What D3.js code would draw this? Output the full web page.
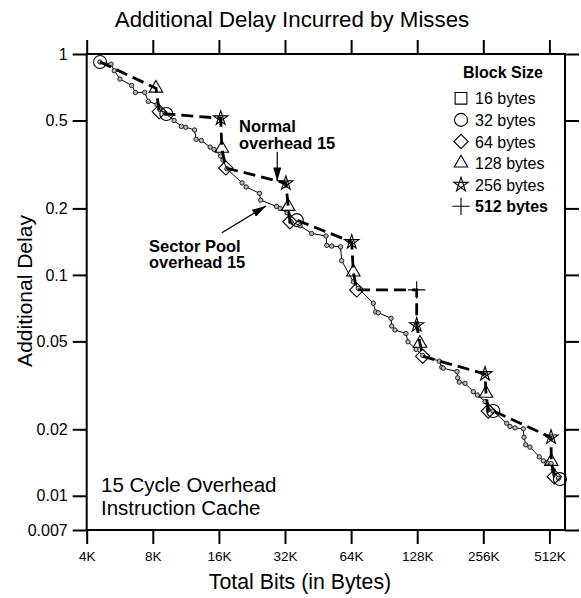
<!DOCTYPE html>
<html>
<head>
<meta charset="utf-8">
<script src="https://cdn.jsdelivr.net/npm/d3@7"></script>
<style>
body { margin: 0; background: #fff; }
text { font-family: "Liberation Sans", Arial, Helvetica, sans-serif; fill: #000; }
</style>
</head>
<body>
<svg id="chart" width="581" height="598"></svg>
<script>
// tick labels
var xTicks = [4, 8, 16, 32, 64, 128, 256, 512];          // K bytes
var yTicks = [1, 0.5, 0.2, 0.1, 0.05, 0.02, 0.01, 0.007];

// sector pool, overhead 15 (thin line, small dots)
var sectorX = [4.6, 5.16, 5.34, 5.67, 6.41, 6.67, 7.35, 7.63, 8.36, 8.63, 9.09, 10.0, 10.8, 11.3, 12.4, 12.6,
	13.3, 14.6, 15.2, 16.3, 16.7, 17.4, 20.4, 21.3, 24.5, 24.8, 29.3, 30.4, 32.7, 34.1, 37.5, 42.3, 49.2,
	49.6, 52.2, 57.3, 58.0, 65.5, 69.0, 80.8, 82.8, 85.1, 97.3, 98.0, 101.4, 113.8, 116.2, 126.5, 135.6,
	161.4, 165.5, 168.3, 194.3, 195.7, 199.0, 211.3, 230.6, 240.4, 260.7, 269.8, 283.4, 327.2, 338.7,
	357, 389.4, 392.3, 399.4, 417.8, 460.5, 480.3, 499.3, 520.9, 533.3, 563.3];
var sectorY = [0.92, 0.90, 0.84, 0.77, 0.72, 0.67, 0.67, 0.61, 0.59, 0.56, 0.54, 0.50, 0.47, 0.466, 0.453, 0.411,
	0.406, 0.379, 0.370, 0.345, 0.331, 0.302, 0.261, 0.250, 0.234, 0.218, 0.204, 0.200, 0.191, 0.174, 0.167, 0.154, 0.150,
	0.136, 0.135, 0.134, 0.116, 0.093, 0.087, 0.0744, 0.068, 0.0674, 0.0636, 0.0587, 0.0563, 0.0543, 0.0498, 0.046, 0.0432,
	0.0407, 0.0382, 0.0378, 0.0365, 0.0342, 0.0327, 0.0323, 0.0296, 0.0286, 0.0267, 0.0245, 0.0242, 0.0213, 0.0206,
	0.0203, 0.0201, 0.0184, 0.0170, 0.0166, 0.0150, 0.0144, 0.0141, 0.0140, 0.0131, 0.0120];

// normal, overhead 15 (dashed line, block size markers)
var normalX = [4.6, 8.27, 8.56, 9.22, 16.3, 16.5, 17.2, 32.3, 33.1, 33.7, 36.2, 64.4, 65.5, 67.9,
	127.3, 127.3, 131.8, 135.6, 260.7, 263.4, 269.8, 284.3, 520.9, 522.3, 538.9, 572];
var normalY = [0.92, 0.70, 0.548, 0.535, 0.512, 0.374, 0.305, 0.260, 0.204, 0.174, 0.177, 0.141, 0.103, 0.0855,
	0.0855, 0.0593, 0.049, 0.0428, 0.0356, 0.0291, 0.0242, 0.0242, 0.0184, 0.0143, 0.0122, 0.0119];
var normalBlock = [32, 128, 64, 32, 256, 128, 64, 256, 128, 64, 32, 256, 128, 64,
	512, 256, 128, 64, 256, 128, 64, 32, 256, 128, 64, 32];

var legendBlocks = [16, 32, 64, 128, 256, 512];
var legendLabels = ["16 bytes", "32 bytes", "64 bytes", "128 bytes", "256 bytes", "512 bytes"];

//
//
//

var svg = d3.select("#chart");

var x = d3.scaleLog().base(2).domain([4, 603]).range([86.7, 565]);
var y = d3.scaleLog().domain([0.007, 1]).range([530, 54]);

// star drawn as line pentagram
var symbolPentagram = {
	draw: function(ctx, size) {
		var r = Math.sqrt(size) * 0.7;
		for (var i = 0; i < 5; i++) {
			var a = -Math.PI / 2 + i * 4 * Math.PI / 5;
			if (i == 0) ctx.moveTo(r * Math.cos(a), r * Math.sin(a));
			else ctx.lineTo(r * Math.cos(a), r * Math.sin(a));
		}
		ctx.closePath();
	}
};

function marker_path(b)
{
	switch (b) {
	case 16:  return d3.symbol(d3.symbolSquare2, 175)();
	case 32:  return d3.symbol(d3.symbolCircle, 132)();
	case 64:  return d3.symbol(d3.symbolDiamond2, 130)();
	case 128: return d3.symbol(d3.symbolTriangle2, 130)();
	case 256: return d3.symbol(symbolPentagram, 115)();
	case 512: return d3.symbol(d3.symbolPlus, 100)();
	}
}

// axes (ticks on all four sides, outward)
function style_axis(g)
{
	g.select(".domain").remove();
	g.selectAll(".tick line").attr("stroke", "#000").attr("stroke-width", 2);
}

svg.append("g")
	.attr("transform", "translate(0,530)")
	.call(d3.axisBottom(x).tickValues(xTicks).tickSize(14).tickSizeOuter(0).tickFormat(d => d + "K"))
	.call(style_axis)
	.selectAll("text")
		.attr("y", 21)
		.attr("font-size", 13.5)
		.attr("font-family", "Liberation Sans, Arial, sans-serif");

svg.append("g")
	.attr("transform", "translate(0,54)")
	.call(d3.axisTop(x).tickValues(xTicks).tickSize(14).tickSizeOuter(0).tickFormat(""))
	.call(style_axis);

svg.append("g")
	.attr("transform", "translate(86.7,0)")
	.call(d3.axisLeft(y).tickValues(yTicks).tickSize(14).tickSizeOuter(0).tickFormat(d => String(d)))
	.call(style_axis)
	.selectAll("text")
		.attr("x", -19)
		.attr("font-size", 16)
		.attr("font-family", "Liberation Sans, Arial, sans-serif");

svg.append("g")
	.attr("transform", "translate(565,0)")
	.call(d3.axisRight(y).tickValues(yTicks).tickSize(14).tickSizeOuter(0).tickFormat(""))
	.call(style_axis);

svg.append("rect")
	.attr("x", 86.7).attr("y", 54)
	.attr("width", 565 - 86.7).attr("height", 530 - 54)
	.attr("fill", "none")
	.attr("stroke", "#000")
	.attr("stroke-width", 2);

// titles
svg.append("text")
	.attr("x", 292).attr("y", 27)
	.attr("text-anchor", "middle")
	.attr("font-size", 22.3)
	.text("Additional Delay Incurred by Misses");

svg.append("text")
	.attr("x", 300).attr("y", 589)
	.attr("text-anchor", "middle")
	.attr("font-size", 21.3)
	.text("Total Bits (in Bytes)");

svg.append("text")
	.attr("transform", "translate(32,291) rotate(-90)")
	.attr("text-anchor", "middle")
	.attr("font-size", 21)
	.text("Additional Delay");

svg.append("text")
	.attr("x", 101).attr("y", 492)
	.attr("font-size", 20.5)
	.text("15 Cycle Overhead");
svg.append("text")
	.attr("x", 101).attr("y", 515)
	.attr("font-size", 20.5)
	.text("Instruction Cache");

// sector pool line
var sectorPts = sectorX.map((d, i) => [d, sectorY[i]]);
var line = d3.line().x(d => x(d[0])).y(d => y(d[1]));

svg.append("path")
	.datum(sectorPts)
	.attr("d", line)
	.attr("fill", "none")
	.attr("stroke", "#000")
	.attr("stroke-width", 1);

svg.selectAll("circle.sector")
	.data(sectorPts)
	.enter()
	.append("circle")
		.attr("class", "sector")
		.attr("cx", d => x(d[0]))
		.attr("cy", d => y(d[1]))
		.attr("r", 2.2)
		.attr("fill", "#b8b8b8")
		.attr("stroke", "#111")
		.attr("stroke-width", 0.9);

// normal line
var normalPts = normalX.map((d, i) => [d, normalY[i], normalBlock[i]]);

svg.append("path")
	.datum(normalPts)
	.attr("d", line)
	.attr("fill", "none")
	.attr("stroke", "#000")
	.attr("stroke-width", 2.8)
	.attr("stroke-dasharray", "12,6");

svg.selectAll("path.blk")
	.data(normalPts)
	.enter()
	.append("path")
		.attr("class", "blk")
		.attr("d", d => marker_path(d[2]))
		.attr("transform", d => "translate(" + x(d[0]) + "," + y(d[1]) + ")")
		.attr("fill", "none")
		.attr("stroke", "#000")
		.attr("stroke-width", 1.1);

// annotations
svg.append("defs").append("marker")
	.attr("id", "arrow")
	.attr("markerUnits", "userSpaceOnUse")
	.attr("markerWidth", 14).attr("markerHeight", 8)
	.attr("refX", 14).attr("refY", 4)
	.attr("orient", "auto")
	.append("path")
		.attr("d", "M0,0L14,4L0,8Z")
		.attr("fill", "#000");

var notes = [
	{ lines: ["Normal", "overhead 15"], tx: 239, ty: 132, from: [29.5, 0.361], to: [29.5, 0.265] },
	{ lines: ["Sector Pool", "overhead 15"], tx: 149, ty: 251.5, from: [16.5, 0.155], to: [26.2, 0.205] }
];

notes.forEach(function(n) {
	var t = svg.append("text")
		.attr("x", n.tx).attr("y", n.ty)
		.attr("font-size", 16.5)
		.attr("font-weight", "bold");
	t.selectAll("tspan")
		.data(n.lines)
		.enter()
		.append("tspan")
			.attr("x", n.tx)
			.attr("dy", (d, i) => i == 0 ? 0 : 16.5)
			.text(d => d);
	svg.append("line")
		.attr("x1", x(n.from[0])).attr("y1", y(n.from[1]))
		.attr("x2", x(n.to[0])).attr("y2", y(n.to[1]))
		.attr("stroke", "#000")
		.attr("stroke-width", 1.2)
		.attr("marker-end", "url(#arrow)");
});

// legend
svg.append("text")
	.attr("x", 503).attr("y", 78)
	.attr("text-anchor", "middle")
	.attr("font-size", 16)
	.attr("font-weight", "bold")
	.text("Block Size");

var legend = svg.selectAll("g.leg")
	.data(legendBlocks)
	.enter()
	.append("g")
		.attr("class", "leg")
		.attr("transform", (d, i) => "translate(461," + (98.3 + i * 21.6) + ")");

legend.append("path")
	.attr("d", d => marker_path(d))
	.attr("fill", "none")
	.attr("stroke", "#000")
	.attr("stroke-width", 1.1);

legend.append("text")
	.attr("x", 14).attr("y", 6)
	.attr("font-size", 16)
	.attr("font-weight", d => d == 512 ? "bold" : "normal")
	.text((d, i) => legendLabels[i]);
</script>
</body>
</html>
